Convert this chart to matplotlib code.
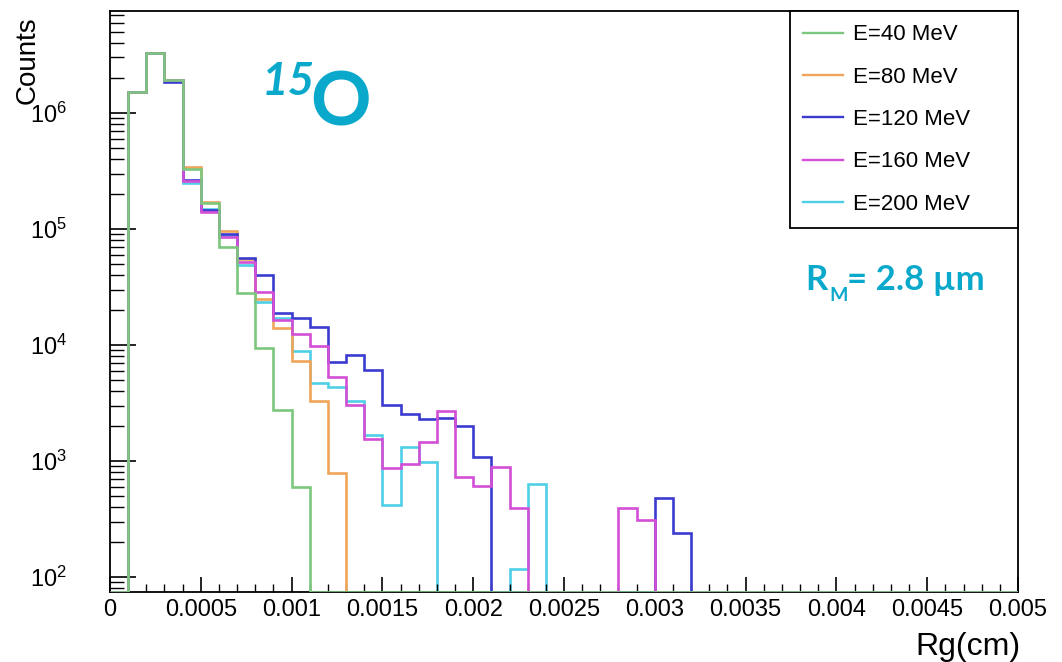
import numpy as np
import matplotlib
matplotlib.use("Agg")
import matplotlib.pyplot as plt
from matplotlib.ticker import MultipleLocator, LogLocator, FuncFormatter

plt.rcParams['font.family'] = ['Liberation Sans', 'DejaVu Sans']
plt.rcParams['mathtext.fontset'] = 'custom'
plt.rcParams['mathtext.rm'] = 'Liberation Sans'
plt.rcParams['mathtext.it'] = 'Liberation Sans:italic'

# histogram binning: 50 bins of 1 um between 0 and 50 um
bin_edges = np.linspace(0, 0.005, 51)

# counts per bin for each beam energy
e40 = [0, 1.52e6, 3.3e6, 1.9e6, 3.29e5, 1.67e5, 7.0e4, 2.8e4, 9.5e3, 2.75e3,
       593] + [0] * 39
e80 = [0, 1.52e6, 3.3e6, 1.9e6, 3.44e5, 1.72e5, 9.5e4, 5.5e4, 2.5e4, 1.39e4,
       7.2e3, 3.3e3, 783] + [0] * 37
e120 = [0, 1.52e6, 3.3e6, 1.86e6, 2.63e5, 1.46e5, 9.06e4, 5.6e4, 4.0e4, 1.87e4,
        1.7e4, 1.44e4, 7.1e3, 8.2e3, 6.1e3, 3.04e3, 2.54e3, 2.3e3, 2.33e3, 2.0e3,
        1.09e3] + [0] * 9 + [477, 241] + [0] * 18
e160 = [0, 1.52e6, 3.3e6, 1.9e6, 2.6e5, 1.41e5, 8.5e4, 5.2e4, 2.85e4, 1.64e4,
        1.24e4, 9.7e3, 5.3e3, 3.04e3, 1.55e3, 865, 937, 1.45e3, 2.7e3, 732,
        608, 893, 396] + [0] * 5 + [391, 310] + [0] * 20
e200 = [0, 1.52e6, 3.3e6, 1.9e6, 2.5e5, 1.48e5, 8.6e4, 4.9e4, 2.36e4, 1.71e4,
        8.9e3, 4.7e3, 4.3e3, 3.3e3, 1.68e3, 418, 1.33e3, 975] + [0] * 4 \
    + [117, 630] + [0] * 26

labels = ['E=40 MeV', 'E=80 MeV', 'E=120 MeV', 'E=160 MeV', 'E=200 MeV']
colors = ['#7cc77e', '#f0a65a', '#3b3bcf', '#d24fd6', '#4fcfe6']

ymin, ymax = 74.3, 7.54e6

W, H = 1062, 662
fig = plt.figure(figsize=(W / 100, H / 100), dpi=100)
ax = fig.add_axes([110 / W, 70 / H, 908 / W, 581 / H])


def px(x, y):
    return x / W, 1 - y / H


series = [e40, e80, e120, e160, e200]
handles = []
# empty bins are drawn along the bottom of the frame, as on a log histogram
for vals, lab, col, z in zip(series, labels, colors, [6, 2, 3, 4, 1]):
    v = np.array(vals, dtype=float)
    v = np.where(v > 0, v, ymin)
    ax.stairs(v, bin_edges, baseline=None, color=col, lw=1.9,
              label=lab, zorder=z)
    handles.append(plt.Line2D([], [], color=col, lw=1.7))

ax.set_yscale('log')
ax.set_xlim(0, 0.005)
ax.set_ylim(ymin, ymax)

ax.xaxis.set_major_locator(MultipleLocator(0.0005))
ax.xaxis.set_minor_locator(MultipleLocator(0.0001))
ax.xaxis.set_major_formatter(FuncFormatter(lambda x, p: '%g' % x))
ax.yaxis.set_major_locator(LogLocator(base=10))
ax.yaxis.set_minor_locator(LogLocator(base=10, subs=np.arange(2, 10)))

ax.tick_params(axis='x', which='major', direction='in', length=11, width=1.2,
               labelsize=17, pad=5, top=False)
ax.tick_params(axis='x', which='minor', direction='in', length=5.5, width=1.0,
               top=False)
ax.tick_params(axis='y', which='major', direction='in', length=19, width=1.2,
               labelsize=17, pad=31, right=False)
ax.tick_params(axis='y', which='minor', direction='in', length=10, width=1.0,
               right=False)
for s in ax.spines.values():
    s.set_linewidth(1.3)

leg = ax.legend(handles, labels, loc='upper left',
                bbox_to_anchor=(680 / 908, 0, 228 / 908, 1), mode='expand',
                borderaxespad=0, fontsize=16, handlelength=1.8,
                handletextpad=0.45, labelspacing=0.96, borderpad=0.6,
                fancybox=False, framealpha=1, edgecolor='black')
leg.get_frame().set_linewidth(1.3)

fig.text(*px(28, 16), 'Counts', rotation=90, ha='center', va='top', fontsize=20)
fig.text(*px(1020, 655), 'Rg(cm)', ha='right', va='baseline', fontsize=23)

# nucleus and Moliere radius annotations
cyan = '#0aa9cc'
fig.text(*px(262, 95), '15', fontsize=33, fontweight='bold', style='italic',
         color=cyan, family='Lato', va='baseline')
fig.text(*px(310, 125), 'O', fontsize=54, fontweight='bold', color=cyan,
         family='Lato', va='baseline')
fig.text(*px(805, 290), 'R', fontsize=25, fontweight='bold', color=cyan,
         family='Lato', va='baseline')
fig.text(*px(829, 301), 'M', fontsize=14, fontweight='bold', color=cyan,
         family='Lato', va='baseline')
fig.text(*px(847, 290), '= 2.8 \u00b5m', fontsize=25, fontweight='bold',
         color=cyan, family='Lato', va='baseline')

fig.savefig('out.png', dpi=100)
